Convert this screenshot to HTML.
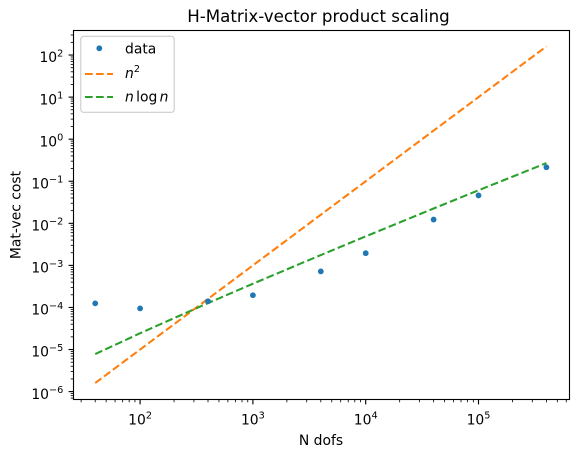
<!DOCTYPE html>
<html>
<head>
<meta charset="utf-8">
<style>
html,body{margin:0;padding:0;background:#fff;}
svg{display:block;font-family:"DejaVu Sans","Liberation Sans",sans-serif;fill:#000;}
</style>
</head>
<body>
<svg id="chart" xmlns="http://www.w3.org/2000/svg" width="578" height="457" viewBox="0 0 578 457"></svg>
<script>
const dofs = [40, 100, 400, 1000, 4000, 10000, 40000, 100000, 400000];
const dataValues = [1.25e-4, 9.5e-5, 1.4e-4, 1.95e-4, 7.2e-4, 1.95e-3, 1.23e-2, 4.6e-2, 2.15e-1];
const quadraticValues = [1.6e-6, 1e-5, 1.6e-4, 1e-3, 1.6e-2, 0.1, 1.6, 10, 160];
const nLogNValues = [7.8e-6, 2.44e-5, 1.27e-4, 3.66e-4, 1.76e-3, 4.9e-3, 2.25e-2, 6.1e-2, 0.27];
const xTickExponents = [2, 3, 4, 5];
const yTickExponents = [-6, -5, -4, -3, -2, -1, 0, 1, 2];
const minorMultipliers = [2, 3, 4, 5, 6, 7, 8, 9];
const titleText = 'H-Matrix-vector product scaling';
const xLabelText = 'N dofs';
const yLabelText = 'Mat-vec cost';

const NS = 'http://www.w3.org/2000/svg';
const svg = document.getElementById('chart');
const plot = {left: 73.5, right: 569.5, top: 30.5, bottom: 399.5};
function xScale(v) { return 140.1 + (Math.log10(v) - 2) * 112.8; }
function yScale(v) { return 391.6 - (Math.log10(v) + 6) * 42.07; }
function make(tag, attrs, parent) {
  const el = document.createElementNS(NS, tag);
  for (const k in attrs) el.setAttribute(k, attrs[k]);
  (parent || svg).appendChild(el);
  return el;
}
function addSpan(textEl, content, size, dy, italic) {
  const s = make('tspan', {'font-size': size, dy: dy}, textEl);
  if (italic) s.setAttribute('font-style', 'italic');
  s.textContent = content;
  return s;
}
function powerLabel(exp, x, y, anchor, name) {
  const t = make('text', {x: x, y: y, 'text-anchor': anchor, fill: '#000'});
  
  
  addSpan(t, '10', 13.9, 0, false);
  addSpan(t, String(exp).replace('-', '\u2212'), 9.7, -5.8, false);
  return t;
}

// background
const bg = make('rect', {x: 0, y: 0, width: 578, height: 457, fill: '#fff'});



// x ticks
for (const e of [1, 2, 3, 4, 5]) {
  for (const m of minorMultipliers) {
    const v = m * Math.pow(10, e);
    const px = xScale(v);
    if (px < plot.left || px > plot.right) continue;
    const t = make('line', {x1: px, x2: px, y1: plot.bottom, y2: plot.bottom + 2.8, stroke: '#000', 'stroke-width': 0.83});
    
    
  }
}
for (const e of xTickExponents) {
  const px = xScale(Math.pow(10, e));
  const t = make('line', {x1: px, x2: px, y1: plot.bottom, y2: plot.bottom + 4.9, stroke: '#000', 'stroke-width': 1.11});
  
  
  powerLabel(e, px, 424.5, 'middle', 'x-tick-label');
}

// y ticks
for (const e of [-7].concat(yTickExponents)) {
  for (const m of minorMultipliers) {
    const v = m * Math.pow(10, e);
    const py = yScale(v);
    if (py < plot.top || py > plot.bottom) continue;
    const t = make('line', {x1: plot.left, x2: plot.left - 2.8, y1: py, y2: py, stroke: '#000', 'stroke-width': 0.83});
    
    
  }
}
for (const e of yTickExponents) {
  const py = yScale(Math.pow(10, e));
  const t = make('line', {x1: plot.left, x2: plot.left - 4.9, y1: py, y2: py, stroke: '#000', 'stroke-width': 1.11});
  
  
  powerLabel(e, 63.3, py + 7.2, 'end', 'y-tick-label');
}

// series
function linePath(values) {
  return values.map((v, i) => (i ? 'L' : 'M') + xScale(dofs[i]).toFixed(2) + ' ' + yScale(v).toFixed(2)).join(' ');
}
const quadLine = make('path', {d: linePath(quadraticValues), fill: 'none', stroke: '#ff7f0e', 'stroke-width': 2.08, 'stroke-dasharray': '7.7 3.33'});


const nlognLine = make('path', {d: linePath(nLogNValues), fill: 'none', stroke: '#2ca02c', 'stroke-width': 2.08, 'stroke-dasharray': '7.7 3.33'});


dataValues.forEach((v, i) => {
  const c = make('circle', {cx: xScale(dofs[i]), cy: yScale(v), r: 2.9, fill: '#1f77b4'});
  
  
});

// frame
const frame = make('rect', {x: plot.left, y: plot.top, width: plot.right - plot.left, height: plot.bottom - plot.top, fill: 'none', stroke: '#000', 'stroke-width': 1.11});



// labels
const title = make('text', {x: 318.5, y: 22, 'text-anchor': 'middle', 'font-size': 16.67, fill: '#000'});
title.textContent = titleText;


const xLabel = make('text', {x: 321, y: 445, 'text-anchor': 'middle', 'font-size': 13.9, fill: '#000'});
xLabel.textContent = xLabelText;


const yLabel = make('text', {x: 0, y: 0, 'text-anchor': 'middle', 'font-size': 13.9, fill: '#000', transform: 'translate(20.5 215) rotate(-90)'});
yLabel.textContent = yLabelText;



// legend
const legend = make('g', {});


const legendBox = make('rect', {x: 80.8, y: 36.3, width: 93.4, height: 76, rx: 2.8, ry: 2.8, fill: '#fff', 'fill-opacity': 0.8, stroke: '#ccc', 'stroke-width': 1.11}, legend);


const legendMarker = make('circle', {cx: 99.3, cy: 48.3, r: 2.9, fill: '#1f77b4'}, legend);


const legendText1 = make('text', {x: 125, y: 53.3, 'font-size': 13.9, fill: '#000'}, legend);
legendText1.textContent = 'data';


const legendLine2 = make('line', {x1: 85, x2: 113, y1: 74, y2: 74, stroke: '#ff7f0e', 'stroke-width': 2.08, 'stroke-dasharray': '7.7 3.33'}, legend);


const legendText2 = make('text', {x: 125, y: 78, fill: '#000'}, legend);


addSpan(legendText2, 'n', 13.9, 0, true);
addSpan(legendText2, '2', 9.7, -5.8, false);
const legendLine3 = make('line', {x1: 85, x2: 113, y1: 97, y2: 97, stroke: '#2ca02c', 'stroke-width': 2.08, 'stroke-dasharray': '7.7 3.33'}, legend);


const legendText3 = make('text', {x: 125, y: 101.5, 'font-size': 13.9, fill: '#000'}, legend);


addSpan(legendText3, 'n', 13.9, 0, true);
const logSpan = addSpan(legendText3, 'log', 13.9, 0, false);
logSpan.setAttribute('dx', 2.3);
const nSpan = addSpan(legendText3, 'n', 13.9, 0, true);
nSpan.setAttribute('dx', 2.3);
</script>
</body>
</html>
